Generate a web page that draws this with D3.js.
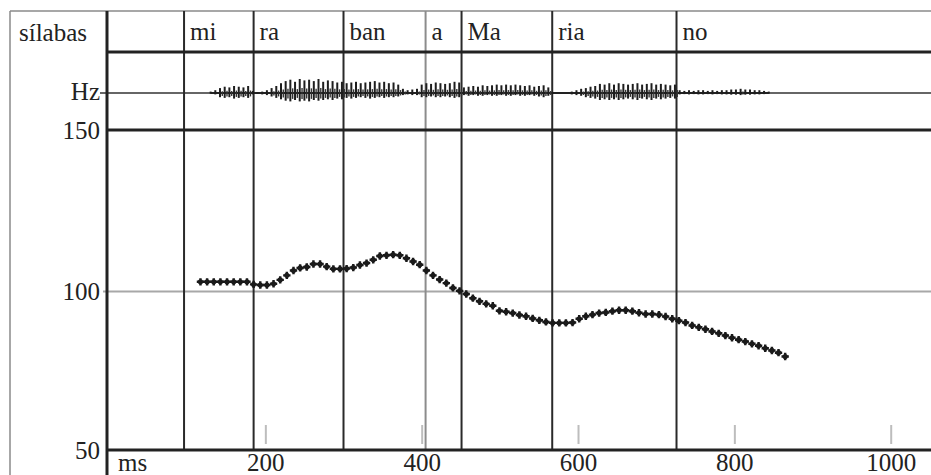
<!DOCTYPE html>
<html>
<head>
<meta charset="utf-8">
<script src="https://cdn.jsdelivr.net/npm/d3@7"></script>
<style>
  html, body { margin: 0; padding: 0; background: #fff; }
  svg { display: block; }
  text { font-family: "Liberation Serif", "DejaVu Serif", serif; fill: #222; }
</style>
</head>
<body>
<svg id="chart" width="931" height="475"></svg>
<script>
// ---------- data ----------
const syllableLabels = ["mi", "ra", "ban", "a", "Ma", "ria", "no"];
const syllableStartMs = [96, 185, 300, 405, 451, 567, 726];
const greySyllable = ["a"];

const xTickValues = [200, 400, 600, 800, 1000];
const yTickValues = [50, 100, 150];

// F0 track (ms, Hz)
const f0Ms = [117,125.5,134,142.5,151,159.5,168,176.5,185,193.5,202,210.5,219,227.5,236,244.5,253,261.5,270,278.5,
  287,295.5,304,312.5,321,329.5,338,346.5,355,363.5,372,380.5,389,397.5,406,414.5,423,431.5,440,448.5,
  457,465.5,474,482.5,491,499.5,508,516.5,525,533.5,542,550.5,559,567.5,576,584.5,593,601.5,610,618.5,
  627,635.5,644,652.5,661,669.5,678,686.5,695,703.5,712,720.5,729,737.5,746,754.5,763,771.5,780,788.5,
  797,805.5,814,822.5,831,839.5,848,856.5,865];
const f0Hz = [103.0,103.0,103.0,103.0,103.0,103.0,103.0,103.0,102.2,102.0,102.0,102.4,103.6,105.0,106.5,107.3,107.6,108.5,108.5,107.7,
  107.0,107.0,107.1,107.4,108.2,108.8,109.8,111.0,111.2,111.4,111.2,110.3,109.3,108.3,106.5,105.0,103.7,102.6,101.1,100.2,
  99.2,97.9,96.9,96.1,95.5,93.9,93.6,93.2,92.6,92.2,91.5,90.9,90.4,90.1,90.1,90.1,90.2,91.4,92.2,92.7,
  93.2,93.4,93.8,94.1,94.1,93.8,93.3,92.9,92.9,92.7,92.1,91.4,90.8,90.2,89.3,88.7,88.1,87.4,86.8,86.1,
  85.4,84.8,84.2,83.5,82.9,82.1,81.4,80.7,79.5];

// Oscillogram (relative amplitudes, sampled every 6 ms from 130 ms)
const waveStartMs = 130;
const waveStepMs = 6;
const waveUp = [0.1,0.2,
  0.35,0.45,0.4,0.5,0.45,0.4,0.5,
  0.15,0.05,0.1,0.2,0.35,0.5,
  0.7,0.85,0.95,0.8,1.0,0.9,0.95,0.85,1.0,0.8,0.9,0.85,0.75,0.8,
  0.7,0.75,0.8,0.7,0.75,0.8,0.85,0.75,0.8,0.7,0.75,0.6,
  0.3,0.2,0.25,0.3,
  0.6,0.7,0.65,0.75,0.7,0.65,0.7,0.8,0.75,
  0.4,0.45,0.5,0.45,0.55,0.5,0.55,0.6,0.55,0.6,0.55,0.6,0.55,0.5,0.55,0.45,0.5,0.55,0.4,
  0.05,0,0,0,
  0.1,0.2,0.3,0.35,0.45,
  0.5,0.65,0.6,0.7,0.6,0.7,0.65,0.6,0.65,0.7,0.6,0.65,0.7,0.6,0.65,0.6,0.55,0.6,
  0.2,0.15,0.2,0.15,0.2,0.2,0.15,0.2,0.15,0.2,0.2,0.25,0.25,0.3,0.25,0.25,0.2,0.2,0.15,0.1];
const waveDown = [0.05,0.1,
  0.3,0.35,0.3,0.4,0.35,0.3,0.35,
  0.1,0.05,0.1,0.15,0.25,0.35,
  0.45,0.55,0.6,0.5,0.6,0.55,0.6,0.5,0.55,0.5,0.45,0.5,0.4,0.45,
  0.35,0.4,0.35,0.3,0.35,0.4,0.35,0.3,0.35,0.3,0.3,0.25,
  0.15,0.1,0.15,0.15,
  0.3,0.3,0.25,0.3,0.3,0.25,0.3,0.35,0.3,
  0.15,0.2,0.15,0.2,0.2,0.15,0.2,0.2,0.15,0.2,0.2,0.15,0.2,0.2,0.15,0.2,0.25,0.3,0.2,
  0.05,0,0,0,
  0.1,0.15,0.2,0.3,0.35,
  0.4,0.5,0.45,0.5,0.45,0.5,0.45,0.4,0.45,0.5,0.4,0.45,0.5,0.4,0.45,0.4,0.35,0.4,
  0.1,0.08,0.1,0.08,0.1,0.1,0.08,0.1,0.08,0.1,0.1,0.12,0.12,0.15,0.12,0.12,0.1,0.1,0.08,0.05];

// ---------- layout ----------
const W = 931, H = 475;
const frameLeft = 10, frameTop = 11;
const axisX = 107;
const headerY = 52, waveY = 93;
const fontSize = 25;

const svg = d3.select("#chart");

const x = d3.scaleLinear().domain([0, 1000]).range([109, 890.7]);
const y = d3.scaleLinear().domain([50, 100, 150]).range([450, 291.5, 130]);
const wy = d3.scaleLinear().domain([-1, 1]).range([waveY + 14, waveY - 14]);

const dark = "#222";

// outer frame (grey)
svg.append("line").attr("x1", frameLeft).attr("x2", W).attr("y1", frameTop).attr("y2", frameTop)
  .attr("stroke", "#8a8a8a").attr("stroke-width", 1.5);
svg.append("line").attr("x1", frameLeft).attr("x2", frameLeft).attr("y1", frameTop).attr("y2", H)
  .attr("stroke", "#8a8a8a").attr("stroke-width", 1.5);

// 100 Hz grid line
svg.append("line").attr("x1", 103).attr("x2", W).attr("y1", y(100)).attr("y2", y(100))
  .attr("stroke", "#a8a8a8").attr("stroke-width", 2);

// Hz baseline of oscillogram
svg.append("line").attr("x1", 100).attr("x2", W).attr("y1", waveY).attr("y2", waveY)
  .attr("stroke", "#333").attr("stroke-width", 1.5);

// syllable boundaries
svg.append("g").selectAll("line").data(syllableLabels).join("line")
  .attr("x1", (d, i) => x(syllableStartMs[i])).attr("x2", (d, i) => x(syllableStartMs[i]))
  .attr("y1", frameTop).attr("y2", y(50))
  .attr("stroke", d => greySyllable.includes(d) ? "#8c8c8c" : "#2a2a2a")
  .attr("stroke-width", 2);

// syllable labels
svg.append("g").selectAll("text").data(syllableLabels).join("text")
  .attr("x", (d, i) => x(syllableStartMs[i]) + 6)
  .attr("y", 40)
  .attr("font-size", fontSize)
  .text(d => d);

// thick horizontal rules
[headerY, y(150), y(50)].forEach(yy => {
  svg.append("line").attr("x1", axisX).attr("x2", W).attr("y1", yy).attr("y2", yy)
    .attr("stroke", dark).attr("stroke-width", 3);
});
// thick left axis
svg.append("line").attr("x1", axisX).attr("x2", axisX).attr("y1", frameTop).attr("y2", H)
  .attr("stroke", dark).attr("stroke-width", 3);

// grey tick marks inside the plot
const tickG = svg.append("g").attr("transform", `translate(0,${y(50) - 6})`)
  .call(d3.axisTop(x).tickValues(xTickValues).tickSizeInner(19).tickSizeOuter(0).tickFormat(""));
tickG.select(".domain").remove();
tickG.selectAll(".tick line").attr("stroke", "#bdbdbd").attr("stroke-width", 2);

// x tick labels
const xLab = svg.append("g").attr("transform", `translate(0,${y(50)})`)
  .call(d3.axisBottom(x).tickValues(xTickValues).tickSize(0).tickPadding(3).tickFormat(d3.format("d")));
xLab.select(".domain").remove();
xLab.selectAll("text").attr("font-size", fontSize).attr("font-family", "Liberation Serif").attr("fill", dark);

// y tick labels
const yLab = svg.append("g").attr("transform", `translate(${axisX},0)`)
  .call(d3.axisLeft(y).tickValues(yTickValues).tickSize(0).tickPadding(7).tickFormat(d3.format("d")));
yLab.select(".domain").remove();
yLab.selectAll("text").attr("font-size", fontSize).attr("font-family", "Liberation Serif").attr("fill", dark);

// static labels
svg.append("text").attr("x", 19).attr("y", 41).attr("font-size", fontSize).text("sílabas");
svg.append("text").attr("x", 100).attr("y", 100).attr("font-size", fontSize).attr("text-anchor", "end").text("Hz");
svg.append("text").attr("x", 118).attr("y", 471).attr("font-size", fontSize).text("ms");

// oscillogram
const waveData = waveUp.map((u, i) => ({ ms: waveStartMs + i * waveStepMs, up: u, down: waveDown[i] }));
const wg = svg.append("g");
wg.append("path")
  .datum(waveData.filter(d => d.up > 0))
  .attr("fill", "none").attr("stroke", "#222").attr("stroke-width", 2)
  .attr("d", d3.line().x(d => x(d.ms)).y(wy(0)));
wg.selectAll("line.sp").data(waveData).join("line")
  .attr("class", "sp")
  .attr("x1", d => x(d.ms)).attr("x2", d => x(d.ms))
  .attr("y1", d => wy(-d.down)).attr("y2", d => wy(d.up))
  .attr("stroke", "#1e1e1e").attr("stroke-width", 2);
wg.selectAll("line.sp2").data(waveData.filter(d => d.up > 0.25)).join("line")
  .attr("class", "sp2")
  .attr("x1", d => x(d.ms) + 2.3).attr("x2", d => x(d.ms) + 2.3)
  .attr("y1", d => wy(-d.down * 0.7)).attr("y2", d => wy(d.up * 0.35))
  .attr("stroke", "#333").attr("stroke-width", 1.4);

// F0 dots
const f0 = f0Ms.map((t, i) => ({ t, hz: f0Hz[i] }));
const dg = svg.append("g");
dg.selectAll("path").data(f0).join("path")
  .attr("transform", d => `translate(${x(d.t)},${y(d.hz)})`)
  .attr("d", d3.symbol(d3.symbolCross, 30))
  .attr("fill", "#1a1a1a");
dg.selectAll("circle").data(f0).join("circle")
  .attr("cx", d => x(d.t)).attr("cy", d => y(d.hz)).attr("r", 2.6)
  .attr("fill", "#1a1a1a");
</script>
</body>
</html>
